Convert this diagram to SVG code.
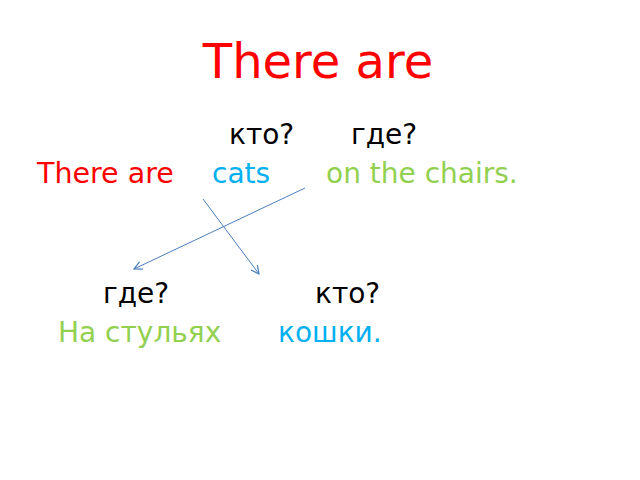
<svg xmlns="http://www.w3.org/2000/svg" width="640" height="480" viewBox="0 0 640 480">
<style>
text{font-family:"DejaVu Sans","Noto Sans",sans-serif;font-size:28px}
.k{fill:#000}
.r{fill:#ff0000}
.b{fill:#00b0f0}
.g{fill:#92d050}
.c{stroke:#4a7ebb;stroke-width:1;fill:none;marker-end:url(#a)}
</style>
<defs>
<marker id="a" viewBox="0 0 10 10" refX="9" refY="5" markerWidth="10" markerHeight="10" markerUnits="userSpaceOnUse" orient="auto">
<path d="M1,1 L9,5 L1,9" fill="none" stroke="#4a7ebb" stroke-width="1.2"/>
</marker>
</defs>
<rect width="640" height="480" fill="#fff"/>
<g id="title"><text x="318" y="78" text-anchor="middle" class="r" style="font-size:48px">There are</text></g>
<g id="q1"><text x="229" y="144" class="k">кто?</text></g>
<g id="q2"><text x="351" y="144" class="k">где?</text></g>
<g id="s1"><text x="37" y="183" class="r" style="font-size:28.5px">There are</text></g>
<g id="s2"><text x="212" y="183" class="b">cats</text></g>
<g id="s3"><text x="326" y="183" class="g">on the chairs.</text></g>
<g id="q3"><text x="103" y="303" class="k">где?</text></g>
<g id="q4"><text x="315" y="303" class="k">кто?</text></g>
<g id="t1"><text x="58" y="342" class="g">На стульях</text></g>
<g id="t2"><text x="278" y="342" class="b">кошки.</text></g>
<g id="connectors">
<line class="c" x1="305" y1="188" x2="134" y2="269"/>
<line class="c" x1="203" y1="199" x2="259" y2="274"/>
</g>
</svg>
